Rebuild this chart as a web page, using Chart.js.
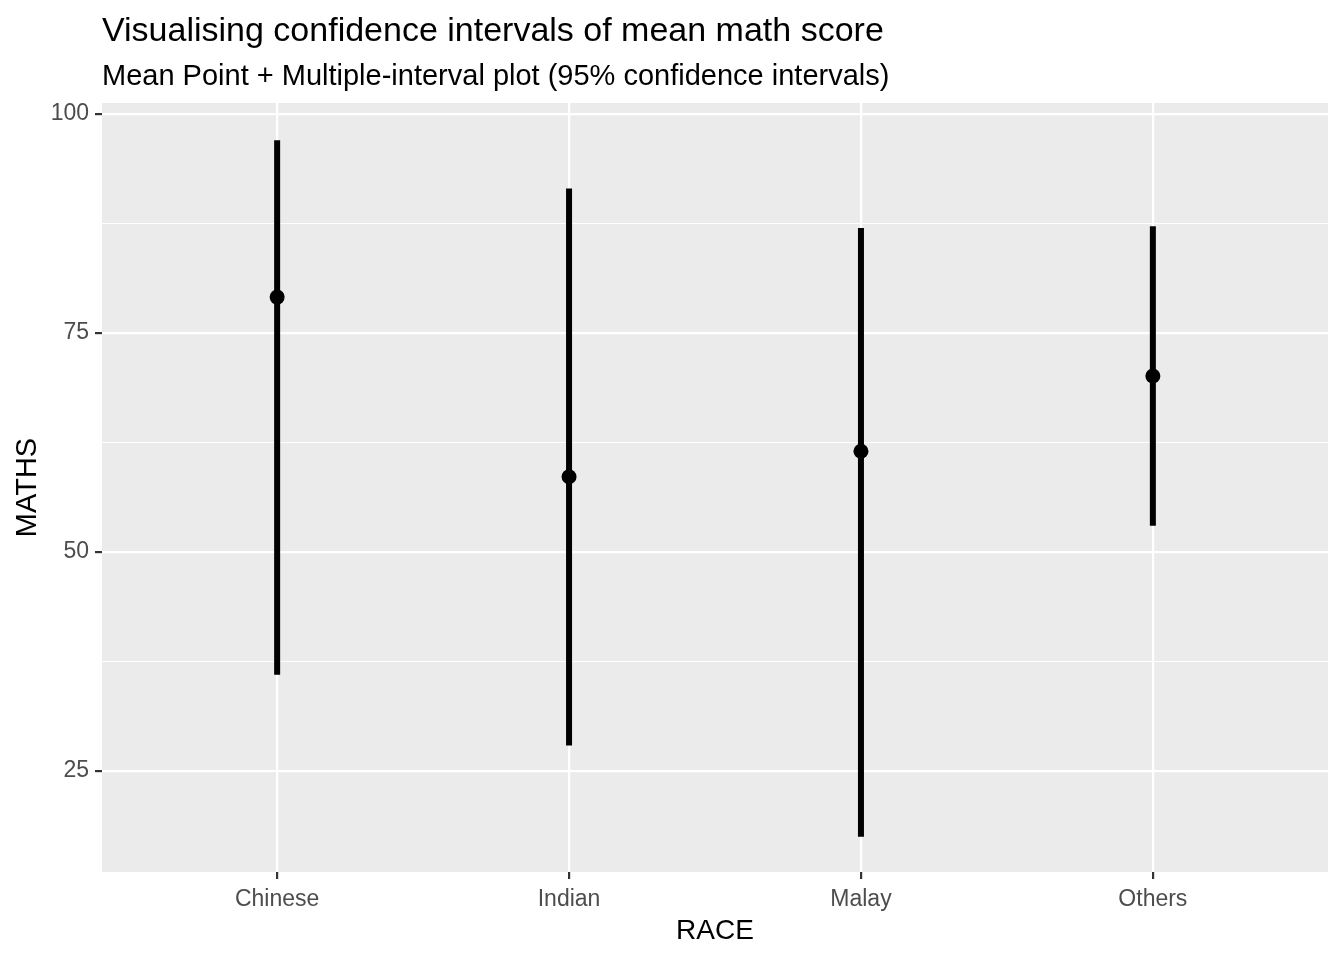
<!DOCTYPE html>
<html>
<head>
<meta charset="utf-8">
<script src="https://cdn.jsdelivr.net/npm/chart.js@4.4.1/dist/chart.umd.min.js"></script>
<style>
  html, body { margin: 0; padding: 0; background: #ffffff; }
  #wrap { width: 1344px; height: 960px; }
</style>
</head>
<body>
<div id="wrap"><canvas id="chart_1" width="1344" height="960"></canvas></div>
<script>
const races = ["Chinese", "Indian", "Malay", "Others"];
const mean_scores = [79.1, 58.6, 61.5, 70.1];
const ci_low = [36.0, 27.9, 17.5, 53.0];
const ci_high = [97.0, 91.5, 87.0, 87.2];
const y_ticks = [25, 37.5, 50, 62.5, 75, 87.5, 100];
const y_labels = ["25", "", "50", "", "75", "", "100"];

const font_family = "'Liberation Sans', Arial, sans-serif";

// one line dataset, interval segments split by null points
let interval_points = [];
for (let i = 0; i < races.length; i++) {
  interval_points.push({x: i + 1, y: ci_low[i]});
  interval_points.push({x: i + 1, y: ci_high[i]});
  interval_points.push({x: i + 1, y: null});
}
const mean_points = mean_scores.map((v, i) => ({x: i + 1, y: v}));

const panel_bg = {
  id: 'panel_bg',
  beforeDraw(chart) {
    const a = chart.chartArea;
    const ctx = chart.ctx;
    ctx.save();
    ctx.fillStyle = '#EBEBEB';
    ctx.fillRect(a.left, a.top, a.right - a.left, a.bottom - a.top);
    ctx.restore();
  }
};

const ctx = document.getElementById('chart_1').getContext('2d');
const chart = new Chart(ctx, {
  type: 'line',
  data: {
    datasets: [{
      label: 'interval',
      data: interval_points,
      borderColor: '#000000',
      borderWidth: 6,
      borderCapStyle: 'butt',
      pointRadius: 0,
      spanGaps: false,
      showLine: true
    }, {
      label: 'mean',
      type: 'scatter',
      data: mean_points,
      backgroundColor: '#000000',
      borderColor: '#000000',
      pointRadius: 7.5,
      borderWidth: 0
    }]
  },
  options: {
    responsive: false,
    animation: false,
    layout: { padding: { left: 0, right: 16, top: 0, bottom: 0 } },
    plugins: {
      legend: { display: false },
      tooltip: { enabled: false },
      title: {
        display: true,
        text: 'Visualising confidence intervals of mean math score',
        align: 'start',
        fullSize: false,
        color: '#000000',
        font: { family: font_family, size: 34, weight: 'normal', lineHeight: 1.2 },
        padding: { top: 11.6, bottom: 0 }
      },
      subtitle: {
        display: true,
        text: 'Mean Point + Multiple-interval plot (95% confidence intervals)',
        align: 'start',
        fullSize: false,
        color: '#000000',
        font: { family: font_family, size: 29, weight: 'normal', lineHeight: 1.2 },
        padding: { top: 7.2, bottom: 8.6 }
      }
    },
    scales: {
      x: {
        type: 'linear',
        min: 0.4,
        max: 4.6,
        afterBuildTicks: function (scale) {
          scale.ticks = races.map((r, i) => ({value: i + 1}));
        },
        afterFit: function (scale) { scale.height = 88; },
        border: { display: false },
        grid: {
          color: '#FFFFFF',
          lineWidth: 2.2,
          tickColor: '#333333',
          tickLength: 7,
          tickWidth: 2.2
        },
        ticks: {
          color: '#4D4D4D',
          padding: 7,
          maxRotation: 0,
          font: { family: font_family, size: 23 },
          callback: function (value) { return races[value - 1] || ''; }
        },
        title: {
          display: true,
          text: 'RACE',
          color: '#000000',
          font: { family: font_family, size: 28 },
          padding: { top: 0, bottom: 12 }
        }
      },
      y: {
        type: 'linear',
        min: 13.47,
        max: 101.26,
        afterBuildTicks: function (scale) {
          scale.ticks = y_ticks.map(v => ({value: v}));
        },
        afterFit: function (scale) { scale.width = 102; },
        border: { display: false },
        grid: {
          color: '#FFFFFF',
          lineWidth: ctx => (ctx.tick && ctx.tick.value % 25 === 0) ? 2.2 : 1.1,
          tickColor: ctx => (ctx.tick && ctx.tick.value % 25 === 0) ? '#333333' : 'rgba(0,0,0,0)',
          tickLength: 7,
          tickWidth: 2.2
        },
        ticks: {
          color: '#4D4D4D',
          padding: 6,
          font: { family: font_family, size: 23 },
          callback: function (value, index) { return y_labels[index]; }
        },
        title: {
          display: true,
          text: 'MATHS',
          color: '#000000',
          font: { family: font_family, size: 29 },
          padding: { top: 11, bottom: 0 }
        }
      }
    }
  },
  plugins: [panel_bg]
});
</script>
</body>
</html>
